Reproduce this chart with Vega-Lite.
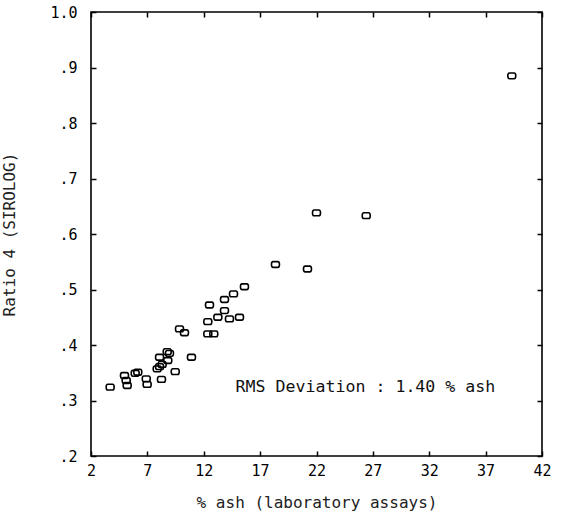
{
  "$schema": "https://vega.github.io/schema/vega-lite/v6.json",
  "width": 451,
  "height": 444,
  "autosize": {"type": "none"},
  "padding": {"left": 91, "top": 12, "right": 20, "bottom": 58},
  "background": "white",
  "config": {
    "font": "DejaVu Sans Mono",
    "view": {"stroke": "black", "strokeWidth": 1.6},
    "axis": {
      "domain": false,
      "grid": false,
      "tickColor": "black",
      "tickWidth": 1.5,
      "tickSize": -5,
      "labelColor": "black",
      "labelFont": "DejaVu Sans Mono",
      "labelFontSize": 15,
      "titleColor": "#222222",
      "titleFont": "DejaVu Sans Mono",
      "titleFontWeight": "normal",
      "titleFontSize": 16
    }
  },
  "layer": [
    {
      "data": {
        "values": [
          {"ash": 3.70, "ratio": 0.324},
          {"ash": 4.97, "ratio": 0.345},
          {"ash": 5.12, "ratio": 0.336},
          {"ash": 5.21, "ratio": 0.327},
          {"ash": 5.92, "ratio": 0.349},
          {"ash": 6.15, "ratio": 0.351},
          {"ash": 6.90, "ratio": 0.339},
          {"ash": 6.98, "ratio": 0.329},
          {"ash": 7.87, "ratio": 0.357},
          {"ash": 8.08, "ratio": 0.361},
          {"ash": 8.31, "ratio": 0.365},
          {"ash": 8.25, "ratio": 0.338},
          {"ash": 8.08, "ratio": 0.378},
          {"ash": 8.81, "ratio": 0.372},
          {"ash": 8.76, "ratio": 0.388},
          {"ash": 8.96, "ratio": 0.385},
          {"ash": 9.47, "ratio": 0.352},
          {"ash": 9.85, "ratio": 0.429},
          {"ash": 10.29, "ratio": 0.422},
          {"ash": 10.91, "ratio": 0.378},
          {"ash": 12.36, "ratio": 0.420},
          {"ash": 12.89, "ratio": 0.420},
          {"ash": 12.36, "ratio": 0.442},
          {"ash": 12.51, "ratio": 0.472},
          {"ash": 13.25, "ratio": 0.450},
          {"ash": 13.84, "ratio": 0.462},
          {"ash": 13.84, "ratio": 0.482},
          {"ash": 14.28, "ratio": 0.447},
          {"ash": 14.64, "ratio": 0.492},
          {"ash": 15.17, "ratio": 0.450},
          {"ash": 15.61, "ratio": 0.505},
          {"ash": 18.36, "ratio": 0.545},
          {"ash": 21.20, "ratio": 0.537},
          {"ash": 22.00, "ratio": 0.638},
          {"ash": 26.41, "ratio": 0.633},
          {"ash": 39.32, "ratio": 0.885}
        ]
      },
      "mark": {
        "type": "point",
        "shape": "M-0.6,-0.72 L0.6,-0.72 Q1,-0.72 1,0 Q1,0.72 0.6,0.72 L-0.6,0.72 Q-1,0.72 -1,0 Q-1,-0.72 -0.6,-0.72 Z",
        "size": 64,
        "filled": false,
        "stroke": "black",
        "strokeWidth": 1.6,
        "opacity": 1
      },
      "encoding": {
        "x": {
          "field": "ash",
          "type": "quantitative",
          "scale": {"domain": [2, 42], "nice": false, "zero": false},
          "axis": {
            "orient": "bottom",
            "values": [2, 7, 12, 17, 22, 27, 32, 37, 42],
            "labelPadding": 12,
            "labelFlush": false,
            "title": "% ash (laboratory assays)",
            "titlePadding": 16
          }
        },
        "y": {
          "field": "ratio",
          "type": "quantitative",
          "scale": {"domain": [0.2, 1.0], "nice": false, "zero": false},
          "axis": {
            "orient": "left",
            "values": [0.2, 0.3, 0.4, 0.5, 0.6, 0.7, 0.8, 0.9, 1.0],
            "labelExpr": "datum.value >= 0.99 ? '1.0' : replace(format(datum.value, '.1f'), '0.', '.')",
            "labelPadding": 19,
            "labelFlush": false,
            "title": "Ratio 4 (SIROLOG)",
            "titlePadding": 32
          }
        }
      }
    },
    {
      "data": {"values": [{"ash": 14.82, "ratio": 0.325, "label": "RMS Deviation : 1.40 % ash"}]},
      "mark": {"type": "text", "align": "left", "baseline": "middle", "fontSize": 16.6, "font": "DejaVu Sans Mono", "color": "#111111"},
      "encoding": {
        "x": {
          "field": "ash",
          "type": "quantitative",
          "scale": {"domain": [2, 42], "nice": false, "zero": false},
          "axis": {"orient": "top", "values": [2, 7, 12, 17, 22, 27, 32, 37, 42], "labels": false, "title": null}
        },
        "y": {
          "field": "ratio",
          "type": "quantitative",
          "scale": {"domain": [0.2, 1.0], "nice": false, "zero": false},
          "axis": {"orient": "right", "values": [0.2, 0.3, 0.4, 0.5, 0.6, 0.7, 0.8, 0.9, 1.0], "labels": false, "title": null}
        },
        "text": {"field": "label"}
      }
    }
  ],
  "resolve": {"axis": {"x": "independent", "y": "independent"}}
}
